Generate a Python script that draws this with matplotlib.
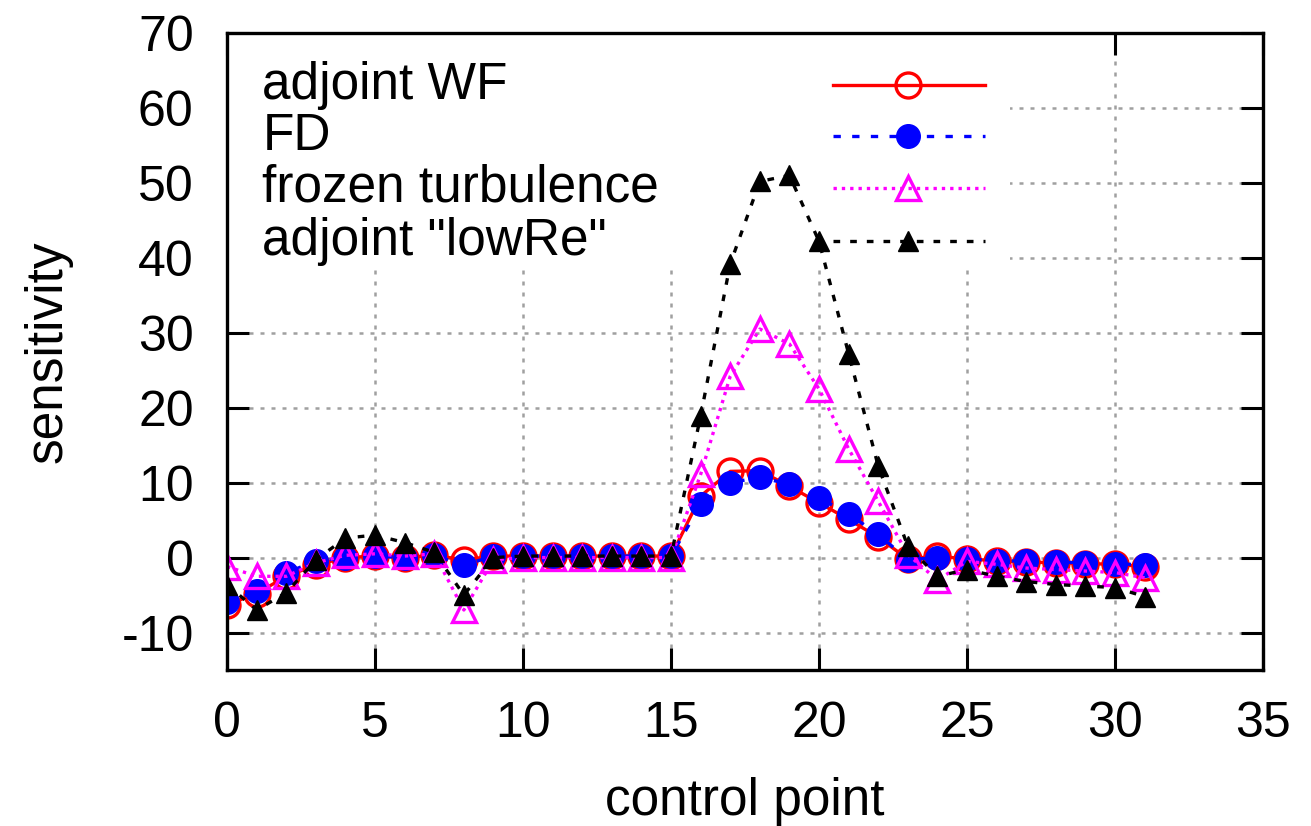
import matplotlib
matplotlib.use("Agg")
import matplotlib.pyplot as plt
from matplotlib.patches import Rectangle

plt.rcParams['font.family'] = ['Liberation Sans', 'DejaVu Sans']
plt.rcParams['axes.unicode_minus'] = False

control_point = list(range(32))
adjoint_wf = [-6.3, -4.8, -2.5, -1.0, 0.0, 0.2, 0.0, 0.3, -0.3, 0.2, 0.2, 0.2, 0.2, 0.2, 0.2, 0.2,
              8.2, 11.5, 11.6, 9.5, 7.3, 5.1, 2.7, -0.2, 0.2, -0.2, -0.4, -0.6, -0.7, -0.8, -0.9, -1.2]
fd = [-5.9, -4.5, -2.0, -0.5, 0.0, 0.2, 0.0, 0.3, -1.0, 0.2, 0.2, 0.2, 0.2, 0.2, 0.2, 0.2,
      7.1, 10.0, 10.7, 9.8, 8.0, 5.8, 3.1, -0.3, 0.0, -0.2, -0.4, -0.5, -0.6, -0.7, -0.8, -1.0]
frozen = [-1.2, -2.5, -2.5, -0.7, 0.3, 0.5, 0.2, 0.5, -7.0, -0.3, 0.0, 0.0, 0.0, 0.0, 0.0, 0.0,
          11.1, 24.2, 30.5, 28.5, 22.5, 14.5, 7.5, 0.4, -3.0, -0.5, -0.9, -1.4, -1.6, -1.8, -2.0, -2.7]
lowre = [-3.6, -7.0, -4.7, -0.3, 2.6, 3.0, 2.0, 0.7, -5.0, 0.0, 0.2, 0.2, 0.2, 0.2, 0.2, 0.2,
         18.9, 39.2, 50.2, 51.0, 42.2, 27.2, 12.2, 1.5, -2.5, -1.6, -2.5, -3.2, -3.6, -3.8, -4.0, -5.2]

labels = ['adjoint WF', 'FD', 'frozen turbulence', 'adjoint "lowRe"']
xticks = [0, 5, 10, 15, 20, 25, 30, 35]
yticks = [-10, 0, 10, 20, 30, 40, 50, 60, 70]

fig = plt.figure(figsize=(13.11, 8.26), dpi=100)
ax = fig.add_axes([0.1732, 0.1889, 0.7902, 0.7711])

styles = [
    dict(color='#ff0000', ls='-', marker='o', ms=18, mfc='none', mec='#ff0000', mew=2.4),
    dict(color='#0000ff', ls=(0, (2.2, 3.4)), marker='o', ms=17, mfc='#0000ff', mec='#0000ff', mew=1),
    dict(color='#ff00ff', ls=(0, (1.0, 1.5)), marker='^', ms=17, mfc='none', mec='#ff00ff', mew=2.4),
    dict(color='#000000', ls=(0, (2.0, 3.0)), marker='^', ms=15, mfc='#000000', mec='#000000', mew=1),
]
series = [adjoint_wf, fd, frozen, lowre]

for i, (ys, st) in enumerate(zip(series, styles)):
    ax.plot(control_point, ys, lw=2.4, zorder=3 + i, **st)

ax.set_xlim(0, 35)
ax.set_ylim(-15, 70)
ax.set_xticks(xticks)
ax.set_yticks(yticks)
ax.grid(True, color='#a0a0a0', lw=1.8, ls=(0, (1.6, 2.8)))
ax.set_axisbelow(True)

# opaque key area (covers grid)
ax.add_patch(Rectangle((0, 0.636), 0.756, 0.364, transform=ax.transAxes,
                       facecolor='white', edgecolor='none', zorder=1))

# key
rows = [0.918, 0.838, 0.757, 0.673]
for lab, st, yr in zip(labels, styles, rows):
    ax.text(0.034, yr, lab, transform=ax.transAxes, fontsize=37, va='center', ha='left', zorder=10)
    ax.plot([0.585, 0.732], [yr, yr], transform=ax.transAxes, lw=2.4, marker='None',
            color=st['color'], ls=st['ls'], zorder=9, clip_on=False)
    ax.plot([0.657], [yr], transform=ax.transAxes, ls='None', marker=st['marker'], ms=st['ms'],
            mfc=st['mfc'], mec=st['mec'], mew=st['mew'], zorder=9, clip_on=False)

for s in ax.spines.values():
    s.set_linewidth(2.4)
    s.set_zorder(12)
ax.tick_params(direction='in', length=16, width=2.2, top=True, right=True,
               labelsize=36, pad=22)
ax.tick_params(axis='y', pad=24)

ax.set_xlabel('control point', fontsize=37, labelpad=22)
ax.set_ylabel('sensitivity', fontsize=37, labelpad=35)

fig.savefig('out.png', dpi=100)
